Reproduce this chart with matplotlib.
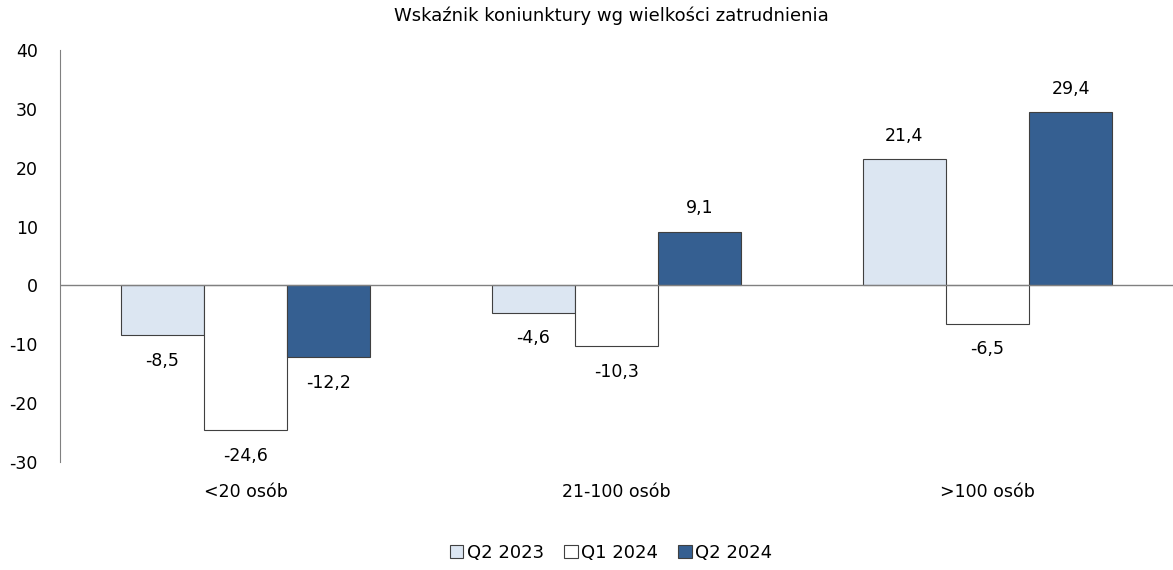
import matplotlib.pyplot as plt
import numpy as np
from matplotlib.patches import Patch

kategorie = ["<20 osób", "21-100 osób", ">100 osób"]
serie = ["Q2 2023", "Q1 2024", "Q2 2024"]
q2_2023 = [-8.5, -4.6, 21.4]
q1_2024 = [-24.6, -10.3, -6.5]
q2_2024 = [-12.2, 9.1, 29.4]
kolory = ["#DCE6F2", "#FFFFFF", "#355F91"]

plt.rcParams['font.family'] = ['DejaVu Sans']
plt.rcParams['axes.unicode_minus'] = False

fig = plt.figure(figsize=(11.73, 5.70), dpi=100)
ax = fig.add_axes([60/1173, 108/570, 1 - 60/1173, 412/570])

x = np.arange(len(kategorie))
w = 0.224
for i, (vals, kol) in enumerate(zip([q2_2023, q1_2024, q2_2024], kolory)):
    pos = x + (i - 1) * w
    ax.bar(pos, vals, w, color=kol, edgecolor="#404040", linewidth=0.8, zorder=2)
    for p, v in zip(pos, vals):
        txt = f"{v:.1f}".replace(".", ",")
        if v >= 0:
            ax.text(p, v + 2.5, txt, ha="center", va="bottom", fontsize=12.5)
        else:
            ax.text(p, v - 2.8, txt, ha="center", va="top", fontsize=12.5)

ax.set_xlim(-0.5, 2.5)
ax.set_ylim(-30, 40)
ax.set_yticks(range(-30, 41, 10))
ax.tick_params(axis="y", length=0, labelsize=12.5, pad=16)
ax.tick_params(axis="x", length=0, labelsize=12.5)
ax.set_xticks(x)
ax.set_xticklabels([])
for xi, k in zip(x, kategorie):
    ax.text(xi, -33.5, k, ha="center", va="top", fontsize=12.5)
ax.axhline(0, color="#808080", linewidth=1, zorder=3)
for s in ["top", "right", "bottom"]:
    ax.spines[s].set_visible(False)
ax.spines["left"].set_color("#808080")

fig.text(0.521, 0.972, "Wskaźnik koniunktury wg wielkości zatrudnienia", ha="center", va="center", fontsize=13)

uchwyty = [Patch(facecolor=k, edgecolor="#404040", linewidth=0.8) for k in kolory]
fig.legend(uchwyty, serie, loc="center", bbox_to_anchor=(0.521, 0.03), ncol=3, frameon=False,
           fontsize=13, handlelength=0.75, handleheight=0.75, handletextpad=0.2, columnspacing=1.1)

fig.savefig("out.png", dpi=100)
